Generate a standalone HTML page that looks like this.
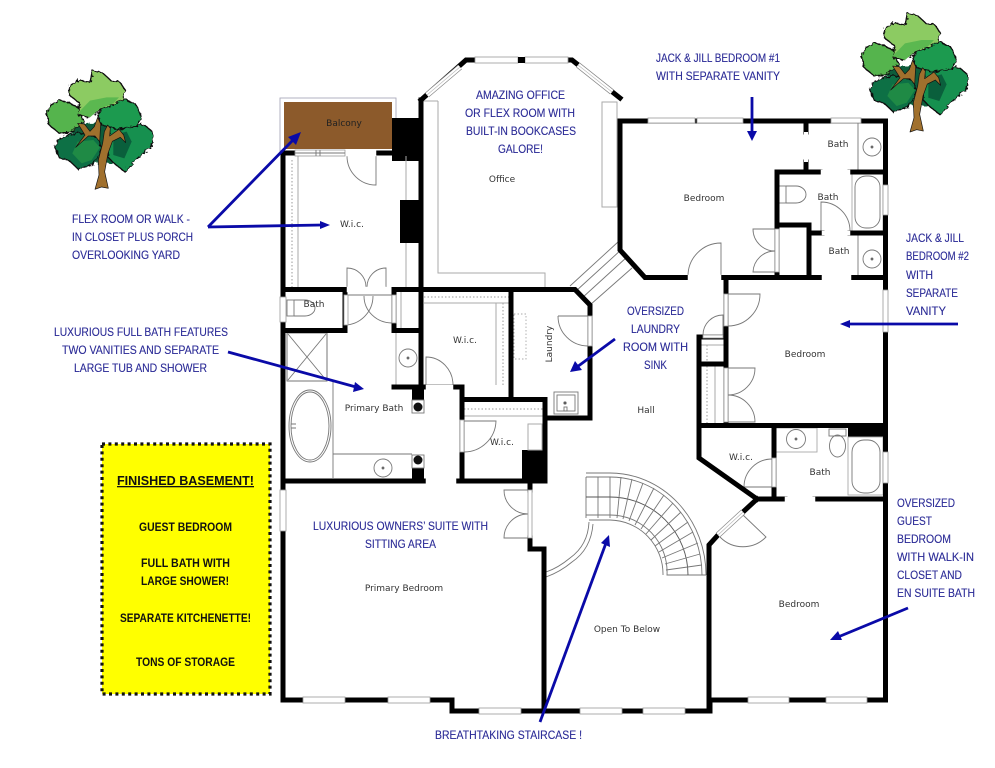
<!DOCTYPE html>
<html><head><meta charset="utf-8"><style>
html,body{margin:0;padding:0;background:#fff}
svg{display:block}
.a{font:12px "Liberation Sans",sans-serif;fill:#2a2a96;stroke:#2a2a96;stroke-width:.12}
.y{font:bold 11.5px "Liberation Sans",sans-serif;fill:#111}
.r{font:9px "DejaVu Sans",sans-serif;fill:#333;text-anchor:middle}
.wl{fill:none;stroke:#000;stroke-width:5;stroke-linejoin:miter;stroke-linecap:square}
.g{fill:none;stroke:#777;stroke-width:.9}
.lg{fill:none;stroke:#aaa;stroke-width:1}
.d{fill:none;stroke:#999;stroke-width:1;stroke-dasharray:1.5 2}
.w{fill:#fff;stroke:#999;stroke-width:.8}
.c{fill:#fff;stroke:#fff;stroke-width:.5}
.ar{fill:none;stroke:#0a0aa8;stroke-width:2.8}
.tip{fill:#0a0aa8}
.t{stroke:#111;stroke-width:4;stroke-linejoin:round}
</style></head><body>
<svg width="995" height="768" viewBox="0 0 995 768" xmlns="http://www.w3.org/2000/svg">
<defs>
<filter id="rough" x="-5%" y="-5%" width="110%" height="110%"><feTurbulence type="fractalNoise" baseFrequency=".09" numOctaves="2" seed="4" result="n"/><feDisplacementMap in="SourceGraphic" in2="n" scale="16"/></filter>
<g id="tree">
<g filter="url(#rough)">
<path fill="#0a5c3a" d="M110 190H270V310H110Z"/>
<path class="t" fill="#0c6f45" d="M58 258 70 240 100 225 130 218 190 232 200 275 172 312 130 328 103 302 72 292Z"/>
<path class="t" fill="#139050" d="M225 205 300 200 325 192 352 215 352 258 322 282 300 302 270 336 235 308 218 290Z"/>
<path class="t" fill="#1f9a4f" d="M188 162 215 130 270 118 302 132 320 172 302 200 250 208 200 195Z"/>
<path class="t" fill="#55b44e" d="M33 160 48 135 75 120 105 130 140 150 145 188 105 218 70 218 44 196Z"/>
<path class="t" fill="#8ccb62" d="M102 78 135 60 165 68 172 32 202 38 226 60 256 68 270 90 264 116 240 132 195 148 165 172 128 165 135 130 106 108Z"/>
</g>
<path fill="#5bb850" d="M128 160 165 122 215 112 252 112 235 130 195 146 165 172Z"/>
<path fill="#1f8a45" d="M128 245 175 240 195 262 170 300 140 310 112 280Z"/>
<path fill="#0a5f3c" d="M235 225 275 215 290 245 268 295 235 285Z"/>
<path fill="#a0702d" stroke="#111" stroke-width="2" stroke-linejoin="round" d="M180 388 192 345 190 300 203 250 208 215 218 195 226 205 224 228 252 208 266 225 272 248 256 232 232 244 219 280 209 335 220 385 200 381Z"/>
<path fill="#a0702d" stroke="#111" stroke-width="2" stroke-linejoin="round" d="M122 262 150 225 128 190 148 192 165 214 178 200 188 172 197 192 194 245 180 228 160 228Z"/>
</g>
</defs>

<use href="#tree" transform="translate(35 60) scale(.3333)"/>
<use href="#tree" transform="translate(850 2.7) scale(.3333)"/>

<!-- yellow box -->
<rect x="102" y="444" width="168" height="250" fill="#ffff00"/>
<rect x="102" y="444" width="168" height="250" fill="none" stroke="#111" stroke-width="3.2" stroke-dasharray="3 3.4"/>

<!-- balcony -->
<rect x="280" y="98" width="116" height="55" fill="#fff" stroke="#aab" stroke-width=".9"/>
<rect x="284" y="102" width="108" height="47" fill="#8c5a2b"/>
<rect x="392" y="118" width="28" height="43"/>
<rect x="400" y="200" width="20" height="43"/>
<rect x="522" y="450" width="24" height="33"/>
<rect x="848" y="428" width="37" height="9"/>
<rect x="412" y="389" width="12" height="11"/>
<rect x="412" y="468" width="12" height="13"/>

<!-- fixtures / light lines -->
<g class="g">
<path class="lg" d="M438 101V273H545V287M419 101H438"/>
<rect class="lg" x="602" y="102" width="15" height="105"/>
<path class="lg" d="M298 156V287M406 156V200M406 243V287"/>
<path class="d" d="M292 160V287M424 297H509M503 303V385M464 409H543M707 345V425"/>
<path class="lg" d="M424 303H509M496 303V385M464 401H543M464 416H543"/>
<rect class="lg" x="528" y="424" width="14" height="26"/>
<rect x="514" y="314" width="12" height="45" style="stroke:#aaa;stroke-dasharray:1.5 2"/>
<path class="lg" d="M396 333V385H420M401 290V328M715 366V423M701 345H724"/>
<circle cx="408" cy="358" r="9"/><circle cx="408" cy="358" r="1" fill="#333"/>
<path d="M347 287V268A19 19 0 0 1 366 287M386 287V268A19 19 0 0 0 367 287"/>
<path d="M376 156V185A29 29 0 0 1 347 156"/>
<path d="M344 325A29 29 0 0 0 373 296M364 296A28 27 0 0 0 392 323M344 295H392"/>
<path d="M426 385V357A27 28 0 0 1 453 385"/>
<path d="M558 316H588V346A30 30 0 0 1 558 316"/>
<rect x="554" y="392" width="24" height="22"/><rect x="557" y="395" width="18" height="16"/>
<circle cx="565" cy="403" r="1.2" fill="#333"/><rect x="564" y="407" width="3" height="4"/>
<!-- bath 1 -->
<rect x="287" y="300" width="7" height="16"/>
<path d="M294 300H305A10 8 0 0 1 305 316H294"/>
<!-- shower -->
<rect x="287" y="333" width="40" height="48" stroke="#666" fill="none"/>
<path d="M288 334 326 380M326 334 288 380"/>
<path d="M333 381V478M333 454H412"/>
<ellipse cx="310" cy="426" rx="21" ry="36"/><ellipse cx="310" cy="426" rx="19" ry="34"/>
<path d="M291 424h5M291 428h5"/>
<circle cx="383" cy="468" r="9"/><circle cx="383" cy="468" r="1" fill="#333"/>
<rect x="412" y="400" width="12" height="13"/><circle cx="418" cy="407" r="4.5" fill="#111" stroke="none"/>
<rect x="412" y="455" width="12" height="13"/><circle cx="418" cy="460" r="4.5" fill="#111" stroke="none"/>
<path d="M464 421H496A32 32 0 0 1 464 452"/>
<path d="M528 490H504A24 24 0 0 0 528 514M528 538H504A24 24 0 0 1 528 514"/>
<!-- NE rooms -->
<path d="M721 276V243A33 33 0 0 0 688 276"/>
<path d="M775 229H753A22 22 0 0 0 775 251M775 272H753A22 22 0 0 1 775 251"/>
<path d="M858 123V170H883"/>
<circle cx="872" cy="147" r="9"/><circle cx="872" cy="147" r="1" fill="#333"/>
<rect x="779" y="186" width="7" height="17"/><path d="M786 186H796A10 8.500 0 0 1 796 203H786"/>
<rect x="852" y="174" width="31" height="57" style="stroke:#aaa"/><rect x="855" y="176" width="25" height="52" rx="11"/>
<path d="M821 231V202A29 29 0 0 1 850 231"/>
<path d="M858 235V276"/>
<circle cx="872" cy="259" r="9"/><circle cx="872" cy="259" r="1" fill="#333"/>
<path d="M728 294H760A32 32 0 0 1 728 326"/>
<path d="M703 335A20 20 0 0 1 723 315V335"/>
<path d="M728 368H755A27 27 0 0 1 728 395M728 422H755A27 27 0 0 0 728 395"/>
<!-- SE rooms -->
<path d="M772 459A28 28 0 0 0 744 487H772"/>
<rect x="776" y="428" width="41" height="24" style="stroke:#aaa"/>
<circle cx="796" cy="439" r="9.500"/><circle cx="796" cy="439" r="1" fill="#333"/>
<rect x="829" y="429" width="17" height="7"/><ellipse cx="837.500" cy="446" rx="8" ry="11"/>
<rect x="848" y="437" width="35" height="58" style="stroke:#aaa"/><rect x="852" y="440" width="28" height="53" rx="12"/>
<path d="M743 515 766 537A32 32 0 0 1 720 537"/>
<!-- angled steps -->
<path d="M570 286 618 242M576 291 622 249M582 298 627 257M590 305 632 268"/>
<!-- staircase -->
<path d="M586 473H610A96 102 0 0 1 706 575M586 477H610A92 98 0 0 1 702 575"/>
<path d="M586 515H610A57 57 0 0 1 667 575H706M589 520H610A54 54 0 0 1 663 575"/>
<path d="M586 477V518M598 477V518M610 477V518"/>
<path d="M586 497H610A78 78 0 0 1 688 575V575" stroke="#555"/>
<path d="M621 477 617 518M632 479 623 519M643 483 629 521M654 488 635 525M664 495 641 529M673 503 646 534M681 512 651 540M688 522 655 546M693 532 659 552M698 543 662 558M700 554 665 564M702 565 666 570"/>
<path d="M589 522Q588 545 570 558Q558 568 546 572M593 524Q591 549 572 562Q560 572 546 577"/>
</g>

<!-- walls -->
<g class="wl">
<path d="M421 100V387M283 153V700H452V711H710V700H885.500V121H620V250L645 277.500H885"/>
<path d="M283 153H420"/>
<path d="M421 100 466 60H572L620 98"/>
<path d="M283 289.500H344M345 330.500V289.500M283 330.500H343M395 289.500H575L590 305V418H546M394 289.500V330.500H421M511 290V399"/>
<path d="M394 387H462V481M464 399.500H545V481M283 481H545"/>
<path d="M530 481V490M530 538V549H544V711"/>
<path d="M726 278V425M699 337H724M699 337V458L757 499M699 364H726M699 425.500H885M774 427V499M757 499H785M815 499H885"/>
<path d="M757 499 743 512M718 535 709 545V710"/>
<path d="M806 122V132M806 162V172M777 172H820M850 172H883M777 172V277M777 225H809V277M809 233H822M850 233H883"/>
</g>

<!-- door gaps on walls -->
<g>
<rect class="c" x="345" y="150" width="31" height="6"/>
<rect class="c" x="347" y="287" width="39" height="5"/>
<rect class="c" x="426" y="385" width="27" height="5"/>
<rect class="c" x="426" y="478" width="30" height="6"/>
<rect class="c" x="688" y="275" width="33" height="5"/>
<rect class="c" x="822" y="275" width="29" height="5"/>
<rect class="c" x="821" y="170" width="29" height="5"/>
<rect class="c" x="822" y="231" width="28" height="4"/>
<rect class="c" x="785" y="497" width="30" height="5"/>
<rect class="w" x="344" y="295" width="4" height="30"/>
<rect class="w" x="392" y="295" width="4" height="28"/>
<rect class="w" x="460" y="420" width="4" height="32"/>
<rect class="w" x="528" y="490" width="4" height="48"/>
<rect class="w" x="724" y="294" width="4" height="32"/>
<rect class="w" x="724" y="368" width="4" height="54"/>
<rect class="w" x="775" y="229" width="4" height="43"/>
<rect class="w" x="772" y="458" width="4" height="29"/>
<rect class="w" x="588" y="316" width="4" height="30"/>
<rect class="w" x="703" y="335" width="20" height="3"/>
<rect x="804" y="132" width="4" height="30" fill="#fff"/>
<!-- windows horizontal -->
<rect class="w" x="295" y="150" width="50" height="6"/><path class="g" d="M320 150v6M316 150v6M295 153H345"/>
<rect class="w" x="475" y="57" width="43" height="6"/><rect class="w" x="525" y="57" width="43" height="6"/>
<rect x="518" y="57" width="7" height="6"/>
<rect class="w" x="648" y="118" width="47" height="5"/><rect class="w" x="697" y="118" width="46" height="5"/>
<rect class="w" x="831" y="118" width="30" height="5"/>
<rect class="w" x="303" y="697" width="42" height="6"/><rect class="w" x="388" y="697" width="42" height="6"/>
<rect class="w" x="479" y="708" width="42" height="6"/><rect class="w" x="580" y="708" width="42" height="6"/><rect class="w" x="643" y="708" width="42" height="6"/>
<rect class="w" x="748" y="697" width="41" height="6"/><rect class="w" x="826" y="697" width="41" height="6"/>
<!-- windows vertical -->
<rect class="w" x="280" y="297" width="6" height="25"/>
<rect class="w" x="280" y="490" width="6" height="41"/>
<rect class="w" x="883" y="185" width="5" height="30"/>
<rect class="w" x="883" y="290" width="5" height="42"/>
<rect class="w" x="883" y="452" width="5" height="31"/>
<!-- diagonal windows -->
<path stroke="#888" stroke-width="6" fill="none" d="M427 95 460 67M578 65 612 92M743 512 718 535"/>
<path stroke="#fff" stroke-width="4.6" fill="none" d="M427 95 460 67M578 65 612 92M743 512 718 535"/>
<path stroke="#bbb" stroke-width=".7" fill="none" d="M427 95 460 67M578 65 612 92M743 512 718 535"/>
</g>

<!-- room labels -->
<g>
<text class="r" x="344" y="126" style="fill:#222">Balcony</text>
<text class="r" x="502" y="182">Office</text>
<text class="r" x="352" y="227">W.i.c.</text>
<text class="r" x="314" y="307">Bath</text>
<text class="r" x="465" y="343">W.i.c.</text>
<text class="r" transform="translate(552 344) rotate(-90)">Laundry</text>
<text class="r" x="374" y="411">Primary Bath</text>
<text class="r" x="502" y="445">W.i.c.</text>
<text class="r" x="404" y="591">Primary Bedroom</text>
<text class="r" x="646" y="413">Hall</text>
<text class="r" x="704" y="201">Bedroom</text>
<text class="r" x="838" y="147">Bath</text>
<text class="r" x="828" y="200">Bath</text>
<text class="r" x="839" y="254">Bath</text>
<text class="r" x="805" y="357">Bedroom</text>
<text class="r" x="741" y="460">W.i.c.</text>
<text class="r" x="820" y="475">Bath</text>
<text class="r" x="799" y="607">Bedroom</text>
<text class="r" x="627" y="632">Open To Below</text>
</g>

<!-- annotation text -->
<g>
<text class="a" x="656" y="62" textLength="124" lengthAdjust="spacingAndGlyphs">JACK &amp; JILL BEDROOM #1</text>
<text class="a" x="656" y="80" textLength="124" lengthAdjust="spacingAndGlyphs">WITH SEPARATE VANITY</text>
<text class="a" x="476" y="99" textLength="89" lengthAdjust="spacingAndGlyphs">AMAZING OFFICE</text>
<text class="a" x="465" y="117" textLength="110" lengthAdjust="spacingAndGlyphs">OR FLEX ROOM WITH</text>
<text class="a" x="466" y="135" textLength="110" lengthAdjust="spacingAndGlyphs">BUILT-IN BOOKCASES</text>
<text class="a" x="498" y="153" textLength="45" lengthAdjust="spacingAndGlyphs">GALORE!</text>
<text class="a" x="72" y="223" textLength="118" lengthAdjust="spacingAndGlyphs">FLEX ROOM OR WALK -</text>
<text class="a" x="72" y="241" textLength="121" lengthAdjust="spacingAndGlyphs">IN CLOSET PLUS PORCH</text>
<text class="a" x="72" y="259" textLength="108" lengthAdjust="spacingAndGlyphs">OVERLOOKING YARD</text>
<text class="a" x="54" y="336" textLength="174" lengthAdjust="spacingAndGlyphs">LUXURIOUS FULL BATH FEATURES</text>
<text class="a" x="62" y="354" textLength="157" lengthAdjust="spacingAndGlyphs">TWO VANITIES AND SEPARATE</text>
<text class="a" x="74" y="372" textLength="133" lengthAdjust="spacingAndGlyphs">LARGE TUB AND SHOWER</text>
<text class="a" x="906" y="242" textLength="58" lengthAdjust="spacingAndGlyphs">JACK &amp; JILL</text>
<text class="a" x="906" y="260" textLength="63" lengthAdjust="spacingAndGlyphs">BEDROOM #2</text>
<text class="a" x="906" y="279" textLength="27" lengthAdjust="spacingAndGlyphs">WITH</text>
<text class="a" x="906" y="297" textLength="52" lengthAdjust="spacingAndGlyphs">SEPARATE</text>
<text class="a" x="906" y="315" textLength="40" lengthAdjust="spacingAndGlyphs">VANITY</text>
<text class="a" x="627" y="315" textLength="57" lengthAdjust="spacingAndGlyphs">OVERSIZED</text>
<text class="a" x="631" y="333" textLength="49" lengthAdjust="spacingAndGlyphs">LAUNDRY</text>
<text class="a" x="623" y="351" textLength="65" lengthAdjust="spacingAndGlyphs">ROOM WITH</text>
<text class="a" x="644" y="369" textLength="23" lengthAdjust="spacingAndGlyphs">SINK</text>
<text class="a" x="313" y="530" textLength="175" lengthAdjust="spacingAndGlyphs">LUXURIOUS OWNERS’ SUITE WITH</text>
<text class="a" x="365" y="548" textLength="71" lengthAdjust="spacingAndGlyphs">SITTING AREA</text>
<text class="a" x="897" y="507" textLength="58" lengthAdjust="spacingAndGlyphs">OVERSIZED</text>
<text class="a" x="897" y="525" textLength="35" lengthAdjust="spacingAndGlyphs">GUEST</text>
<text class="a" x="897" y="543" textLength="54" lengthAdjust="spacingAndGlyphs">BEDROOM</text>
<text class="a" x="897" y="561" textLength="77" lengthAdjust="spacingAndGlyphs">WITH WALK-IN</text>
<text class="a" x="897" y="579" textLength="65" lengthAdjust="spacingAndGlyphs">CLOSET AND</text>
<text class="a" x="897" y="597" textLength="78" lengthAdjust="spacingAndGlyphs">EN SUITE BATH</text>
<text class="a" x="435" y="739" textLength="147" lengthAdjust="spacingAndGlyphs">BREATHTAKING STAIRCASE !</text>
<text class="y" x="117" y="485" style="font-size:13px" text-decoration="underline" textLength="137" lengthAdjust="spacingAndGlyphs">FINISHED BASEMENT!</text>
<text class="y" x="139" y="531" textLength="93" lengthAdjust="spacingAndGlyphs">GUEST BEDROOM</text>
<text class="y" x="141" y="567" textLength="89" lengthAdjust="spacingAndGlyphs">FULL BATH WITH</text>
<text class="y" x="141" y="585" textLength="88" lengthAdjust="spacingAndGlyphs">LARGE SHOWER!</text>
<text class="y" x="120" y="622" textLength="131" lengthAdjust="spacingAndGlyphs">SEPARATE KITCHENETTE!</text>
<text class="y" x="136" y="666" textLength="99" lengthAdjust="spacingAndGlyphs">TONS OF STORAGE</text>
</g>

<!-- arrows -->
<g>
<path class="ar" d="M208 227 294 139"/><path class="tip" d="M301 132 296 145 288 137Z"/>
<path class="ar" d="M208 227 322 225"/><path class="tip" d="M330 225 320 221V229Z"/>
<path class="ar" d="M228 352 356 387"/><path class="tip" d="M364 389 353 392 355 382Z"/>
<path class="ar" d="M752 97V132"/><path class="tip" d="M752 141 747 131H757Z"/>
<path class="ar" d="M958 324H848"/><path class="tip" d="M840 324 850 320V328Z"/>
<path class="ar" d="M615 339 577 367"/><path class="tip" d="M570 372 575 361 582 370Z"/>
<path class="ar" d="M540 722 606 543"/><path class="tip" d="M609 535 610 547 601 543Z"/>
<path class="ar" d="M908 608 838 637"/><path class="tip" d="M830 640 838 631 842 640Z"/>
</g>
</svg>
</body></html>
